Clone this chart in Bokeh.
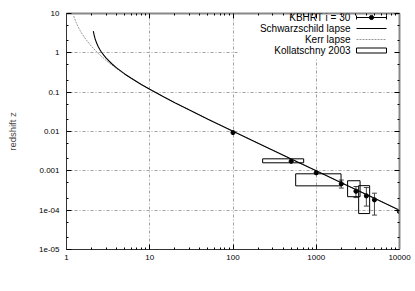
from bokeh.plotting import figure
from bokeh.models import (Range1d, LogAxis, FixedTicker, CustomJSTickFormatter, Label,
                          Whisker, TeeHead, ColumnDataSource)
from bokeh.embed import file_html
from bokeh.resources import INLINE

# ---------------- data ----------------
x_ticks = [1, 10, 100, 1000, 10000]
x_tick_labels = ["1", "10", "100", "1000", "10000"]
y_ticks = [1e-5, 1e-4, 1e-3, 1e-2, 1e-1, 1, 10]
y_tick_labels = ["1e-05", "1e-04", "0.001", "0.01", "0.1", "1", "10"]

schw_r = [2.1, 2.15, 2.2, 2.3, 2.4, 2.5, 2.6, 2.8, 3, 3.5, 4, 5, 6, 8, 10, 15, 20, 30, 50,
          100, 200, 500, 1000, 2000, 5000, 10000]
schw_z = [3.58, 2.79, 2.32, 1.77, 1.45, 1.24, 1.08, 0.871, 0.732, 0.528, 0.414, 0.291, 0.225,
          0.155, 0.118, 0.0742, 0.0541, 0.0351, 0.0206, 0.0102, 0.00504, 0.00201, 0.0010,
          0.0005, 0.0002, 0.0001]

kerr_r = [1.22, 1.3, 1.4, 1.5, 1.7, 2, 2.5, 3, 4, 5, 7, 10, 20, 30, 50, 100, 200, 500, 1000,
          2000, 5000, 10000]
kerr_z = [8.63, 6.0, 4.30, 3.31, 2.23, 1.45, 0.892, 0.633, 0.395, 0.285, 0.182, 0.118, 0.0541,
          0.0351, 0.0206, 0.0102, 0.00504, 0.00201, 0.0010, 0.0005, 0.0002, 0.0001]

kbhrt_r = [100, 500, 1000, 2000, 3000, 4000, 5000, 10000]
kbhrt_z = [0.0094, 0.00175, 0.00089, 0.000467, 0.000303, 0.000231, 0.000183, 0.000092]

err_r = [2000, 3000, 4000, 5000]
err_lo = [3.65e-4, 2.09e-4, 1.27e-4, 7.5e-5]
err_hi = [5.83e-4, 3.99e-4, 3.76e-4, 2.7e-4]

koll_r0 = [227, 566, 2380, 3230]
koll_r1 = [706, 1985, 3360, 4380]
koll_z0 = [1.6e-3, 4.15e-4, 2.2e-4, 8.2e-5]
koll_z1 = [2.02e-3, 8.4e-4, 5.6e-4, 4.2e-4]

legend_labels = ["KBHRT i = 30", "Schwarzschild lapse", "Kerr lapse", "Kollatschny 2003"]

# ---------------- layout helpers ----------------
FONT = "Liberation Sans"
FW, FH = 333.0, 236.0          # intended frame size in px
XL0, XL1 = 0.0, 4.0            # log10 x range
YL0, YL1 = -5.0, 1.0           # log10 y range


def fx(px):
    return 10 ** (XL0 + (XL1 - XL0) * px / FW)


def fy(py):
    return 10 ** (YL1 - (YL1 - YL0) * py / FH)


p = figure(width=415, height=291, x_axis_type="log", y_axis_type="log",
           x_range=Range1d(x_ticks[0], x_ticks[-1]), y_range=Range1d(y_ticks[0], y_ticks[-1]),
           output_backend="svg", toolbar_location=None,
           min_border_left=66, min_border_right=16, min_border_top=13, min_border_bottom=42)
p.outline_line_color = None
p.background_fill_color = "white"

x_minor = [m * t for t in x_ticks[:-1] for m in range(2, 10)]
y_minor = [m * t for t in y_ticks[:-1] for m in (2, 5)]
x_ticker = FixedTicker(ticks=x_ticks, minor_ticks=x_minor)
y_ticker = FixedTicker(ticks=y_ticks, minor_ticks=y_minor)

xfmt = CustomJSTickFormatter(args=dict(labels=x_tick_labels),
                             code="return labels[Math.round(Math.log10(tick))];")
yfmt = CustomJSTickFormatter(args=dict(labels=y_tick_labels),
                             code="return labels[Math.round(Math.log10(tick)) + 5];")
blank = CustomJSTickFormatter(code="return '';")


def style_axis(ax, line_color, line_width):
    ax.major_tick_in = 5
    ax.major_tick_out = 0
    ax.minor_tick_in = 2
    ax.minor_tick_out = 0
    ax.major_tick_line_color = "black"
    ax.minor_tick_line_color = "black"
    ax.axis_line_color = line_color
    ax.axis_line_width = line_width
    ax.major_label_text_font = FONT
    ax.major_label_text_font_size = "8px"
    ax.major_label_text_color = "black"


xa = p.xaxis[0]
xa.ticker = x_ticker
xa.formatter = xfmt
style_axis(xa, "#333333", 1)
xa.major_label_standoff = 5

ya = p.yaxis[0]
ya.ticker = y_ticker
ya.formatter = yfmt
style_axis(ya, "#333333", 1)
ya.major_label_standoff = 7
ya.axis_label = "redshift z"
ya.axis_label_text_font = FONT
ya.axis_label_text_font_size = "9.5px"
ya.axis_label_text_font_style = "normal"
ya.axis_label_standoff = 18

top = LogAxis(ticker=x_ticker, formatter=blank)
style_axis(top, "#888888", 2)
top.major_label_standoff = 0
top.major_label_text_font_size = "1px"
p.add_layout(top, "above")

right = LogAxis(ticker=y_ticker, formatter=blank)
style_axis(right, "#888888", 2)
right.major_label_standoff = 0
right.major_label_text_font_size = "1px"
p.add_layout(right, "right")

p.xgrid.ticker = FixedTicker(ticks=x_ticks[1:-1])
p.ygrid.ticker = FixedTicker(ticks=y_ticks[1:-1])
for g in (p.xgrid, p.ygrid):
    g.grid_line_color = "#a0a0a0"
    g.grid_line_dash = "3 2 1 2"
    g.grid_line_width = 1

# legend background (hides grid)
p.quad(left=[fx(172)], right=[fx(328)], top=[fy(0.5)], bottom=[fy(44)],
       fill_color="white", line_color=None)

# ---------------- data marks ----------------
p.scatter(kbhrt_r, kbhrt_z, marker="circle", size=4.2, color="black")
p.line(kerr_r, kerr_z, line_color="#999999", line_width=1, line_dash="2 1")
p.line(schw_r, schw_z, line_color="black", line_width=1.1)

esrc = ColumnDataSource(dict(base=err_r, lower=err_lo, upper=err_hi))
p.add_layout(Whisker(source=esrc, base="base", lower="lower", upper="upper",
                     dimension="height", line_color="#444444", line_width=1,
                     upper_head=TeeHead(size=5, line_color="#444444", line_width=1),
                     lower_head=TeeHead(size=5, line_color="#444444", line_width=1)))

p.quad(left=koll_r0, right=koll_r1, bottom=koll_z0, top=koll_z1,
       fill_color=None, line_color="black", line_width=1)

# ---------------- legend ----------------
rows = [4, 15, 26, 37]
tx, sx0, sx1 = 284, 290, 320
for lab, r in zip(legend_labels, rows):
    p.add_layout(Label(x=fx(tx), y=fy(r), text=lab, text_align="right",
                       text_baseline="middle", text_font=FONT, text_font_size="10px",
                       text_color="black"))
# KBHRT sample
r0 = rows[0]
p.segment(x0=[fx(sx0)], y0=[fy(r0)], x1=[fx(sx1)], y1=[fy(r0)], line_color="black", line_width=1)
p.segment(x0=[fx(sx0), fx(sx1)], y0=[fy(r0 - 2), fy(r0 - 2)], x1=[fx(sx0), fx(sx1)],
          y1=[fy(r0 + 2), fy(r0 + 2)], line_color="black", line_width=1)
p.scatter([fx((sx0 + sx1) / 2)], [fy(r0)], marker="circle", size=4.2, color="black")
# Schwarzschild sample
p.segment(x0=[fx(sx0)], y0=[fy(rows[1])], x1=[fx(sx1)], y1=[fy(rows[1])],
          line_color="black", line_width=1.1)
# Kerr sample
p.segment(x0=[fx(sx0)], y0=[fy(rows[2])], x1=[fx(sx1)], y1=[fy(rows[2])],
          line_color="#999999", line_width=1, line_dash="2 1")
# Kollatschny sample
p.quad(left=[fx(sx0)], right=[fx(sx1)], top=[fy(rows[3] - 2.5)], bottom=[fy(rows[3] + 2.5)],
       fill_color="white", line_color="black", line_width=1)

# ---------------- x axis label with subscript ----------------
ly = fy(260)
p.add_layout(Label(x=fx(175.5), y=ly, text="distance [r", text_align="right",
                   text_baseline="middle", text_font=FONT, text_font_size="9px",
                   text_color="black"))
p.add_layout(Label(x=fx(176), y=fy(263), text="g", text_align="left",
                   text_baseline="middle", text_font=FONT, text_font_size="6.5px",
                   text_color="black"))
p.add_layout(Label(x=fx(180), y=ly, text="]", text_align="left",
                   text_baseline="middle", text_font=FONT, text_font_size="9px",
                   text_color="black"))

open("out.html", "w").write(file_html(p, INLINE))
